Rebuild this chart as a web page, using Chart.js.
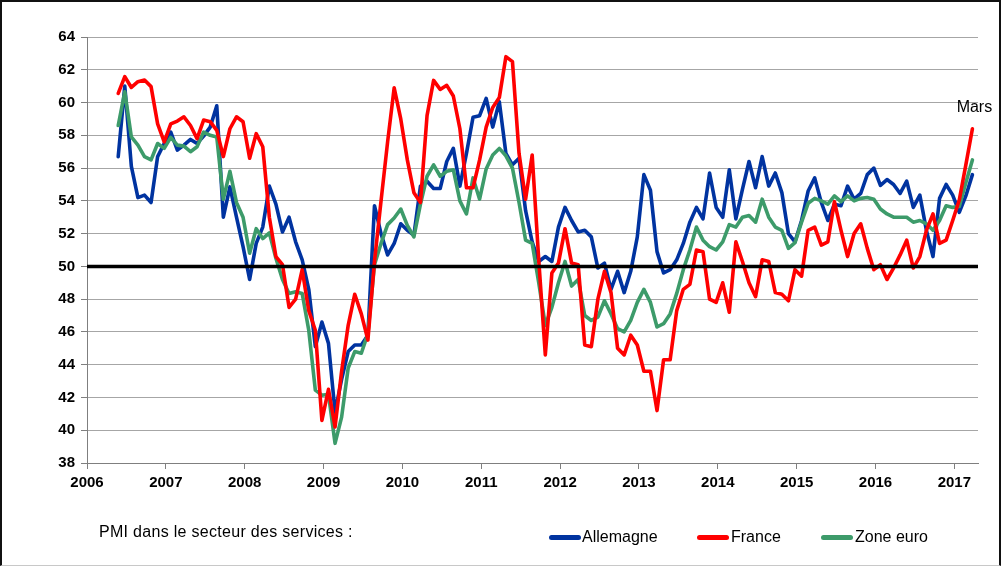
<!DOCTYPE html>
<html lang="fr">
<head>
<meta charset="utf-8">
<script src="https://cdn.jsdelivr.net/npm/chart.js@4.4.1/dist/chart.umd.min.js"></script>
<style>
body{margin:0;background:#fff;font-family:"Liberation Sans",Arial,sans-serif;}
#zone{position:relative;width:1001px;height:566px;overflow:hidden;}
#graf{position:absolute;left:0;top:0;}
#cadre{position:absolute;left:0;top:0;width:1001px;height:566px;box-sizing:border-box;border-left:2px solid #111;border-top:2px solid #111;border-right:2px solid #111;border-bottom:1px solid #c8c8c8;pointer-events:none;}
.txt{position:absolute;font-size:16px;line-height:20px;color:#000;white-space:nowrap;}
.trait{position:absolute;width:32px;height:5px;border-radius:3px;}
</style>
</head>
<body>
<div id="zone">
<canvas id="graf" width="1001" height="566"></canvas>
<div class="txt" style="left:99px;top:522px;letter-spacing:0.3px;">PMI dans le secteur des services :</div>
<div class="trait" style="left:549px;top:535px;background:#0033a0;"></div>
<div class="txt" style="left:582px;top:527px;">Allemagne</div>
<div class="trait" style="left:697px;top:535px;background:#ff0000;"></div>
<div class="txt" style="left:731px;top:527px;">France</div>
<div class="trait" style="left:821px;top:535px;background:#3d9b6a;"></div>
<div class="txt" style="left:855px;top:527px;">Zone euro</div>
<div id="cadre"></div>
</div>
<script>
// PMI services, mensuel, de mai 2006 a mars 2017
const anneeDebut = 2006;
const moisDebut = 5;

const allemagne = [56.7,61.0,56.1,54.2,54.35,53.9,56.7,57.5,58.2,57.1,
57.4,57.75,57.5,57.95,58.5,59.8,53.0,54.85,53.0,51.2,
49.2,51.4,52.4,54.9,53.8,52.1,53.0,51.5,50.4,48.6,
45.1,46.6,45.3,41.1,43.1,44.8,45.2,45.2,45.8,53.7,
52.0,50.7,51.4,52.6,52.2,51.9,54.9,55.2,54.75,54.75,
56.4,57.2,54.9,56.9,59.1,59.2,60.25,58.5,60.05,56.9,
56.2,56.6,53.4,51.5,50.3,50.6,50.3,52.4,53.6,52.8,
52.1,52.2,51.8,49.9,50.2,48.6,49.7,48.4,49.7,51.8,
55.6,54.65,50.9,49.6,49.8,50.4,51.4,52.7,53.6,52.9,
55.7,53.6,53.0,55.9,52.9,54.7,56.4,54.8,56.7,54.9,
55.7,54.5,52.0,51.5,52.8,54.6,55.4,53.9,52.8,53.8,
53.7,54.9,54.1,54.45,55.6,56.0,54.95,55.3,55.0,54.45,
55.2,53.6,54.35,52.2,50.6,54.15,55.0,54.35,53.3,54.3,55.6];

const france = [60.56,61.58,60.92,61.27,61.37,60.97,58.7,57.6,58.7,58.87,
59.13,58.6,57.8,58.93,58.83,58.3,56.7,58.4,59.13,58.83,
56.6,58.1,57.3,53.0,50.6,50.1,47.5,48.0,49.8,47.3,
46.1,40.6,42.5,40.2,43.6,46.4,48.3,47.1,45.5,50.3,
54.0,57.6,60.9,59.0,56.5,54.5,53.9,59.2,61.35,60.8,
61.05,60.4,58.4,54.8,54.8,56.5,58.5,59.7,60.3,62.8,
62.5,56.9,54.1,56.8,50.4,44.6,49.6,50.2,52.3,50.2,
50.1,45.2,45.1,48.0,49.7,48.4,45.0,44.6,45.8,45.2,
43.6,43.6,41.2,44.3,44.3,47.3,48.6,48.9,51.0,50.9,
48.0,47.8,49.0,47.2,51.5,50.3,49.0,48.15,50.4,50.3,
48.4,48.3,47.9,49.8,49.4,52.2,52.4,51.3,51.5,53.95,
52.2,50.6,52.0,52.6,51.1,49.8,50.1,49.2,49.9,50.7,
51.6,49.9,50.6,52.2,53.2,51.4,51.6,52.8,54.05,56.2,58.4];

const zoneEuro = [58.6,60.66,57.9,57.4,56.7,56.5,57.5,57.2,57.87,57.4,
57.34,57.0,57.3,58.2,58.0,57.9,54.1,55.8,53.9,53.0,
50.8,52.3,51.7,52.05,50.5,49.2,48.35,48.45,48.35,46.1,
42.45,42.14,42.2,39.2,40.8,43.8,44.8,44.7,45.9,50.1,
51.4,52.55,52.95,53.5,52.5,51.8,53.8,55.5,56.2,55.5,
55.8,55.9,54.0,53.2,55.4,54.1,55.95,56.8,57.2,56.75,
56.0,53.9,51.6,51.4,49.0,46.4,47.5,49.0,50.3,48.8,
49.2,47.0,46.7,46.9,47.9,47.1,46.2,46.0,46.7,47.8,
48.6,47.8,46.3,46.5,47.1,48.35,49.8,51.0,52.4,51.6,
51.2,51.0,51.5,52.55,52.4,53.0,53.1,52.7,54.1,53.0,
52.4,52.2,51.1,51.45,52.7,53.85,54.15,54.0,53.8,54.3,
53.95,54.3,54.0,54.15,54.2,54.1,53.5,53.2,53.0,53.0,
53.0,52.7,52.8,52.6,52.2,52.8,53.7,53.6,53.65,55.1,56.5];

const annees = [2006,2007,2008,2009,2010,2011,2012,2013,2014,2015,2016,2017];
const gradY = [38,40,42,44,46,48,50,52,54,56,58,60,62,64];
const seuil = 50;
const xMin = 2006, xMax = 2017.3;

const enPoints = serie => serie.map((v,i)=>({x: anneeDebut + (moisDebut-1+i+0.75)/12, y: v}));

const police = "'Liberation Sans', Arial, sans-serif";
Chart.defaults.font.family = police;

const etiquetteMars = {
id:"mars",
afterDatasetsDraw(chart){
const meta = chart.getDatasetMeta(1);
const p = meta.data[meta.data.length-1];
const ctx = chart.ctx;
ctx.save();
ctx.font = "16px " + police;
ctx.fillStyle = "#000";
ctx.textAlign = "center";
ctx.textBaseline = "middle";
ctx.fillText("Mars", p.x+2, p.y-21);
ctx.restore();
}
};

const ligne = (lab, serie, coul) => ({
label: lab,
data: enPoints(serie),
borderColor: coul,
backgroundColor: coul,
borderWidth: 3.6,
pointRadius: 0,
tension: 0,
borderJoinStyle: "round",
borderCapStyle: "round"
});

new Chart(document.getElementById("graf"), {
type: "line",
data: {
datasets: [
{label:"seuil", data:[{x:xMin,y:seuil},{x:xMax,y:seuil}], borderColor:"#000", borderWidth:3.5, pointRadius:0},
ligne("France", france, "#ff0000"),
ligne("Zone euro", zoneEuro, "#3d9b6a"),
ligne("Allemagne", allemagne, "#0033a0")
]
},
options: {
responsive: false,
animation: false,
layout: {padding: {left:0, top:37, right:23, bottom:73}},
plugins: {legend:{display:false}, tooltip:{enabled:false}},
scales: {
x: {
type: "linear",
min: xMin,
max: xMax,
afterBuildTicks: s => { s.ticks = annees.map(v=>({value:v})); },
afterFit: s => { s.height = 30; },
ticks: {callback: v => String(v), color:"#000", font:{size:15, weight:"bold"}, padding:5, maxRotation:0, autoSkip:false},
grid: {drawOnChartArea:false, drawTicks:true, tickLength:6, tickColor:"#7f7f7f"},
border: {color:"#7f7f7f", width:1}
},
y: {
min: 38,
max: 64,
afterBuildTicks: s => { s.ticks = gradY.map(v=>({value:v})); },
afterFit: s => { s.width = 87; },
ticks: {color:"#000", font:{size:15, weight:"bold"}, padding:6},
grid: {color:"#a6a6a6", lineWidth:1, tickLength:6, tickColor:"#7f7f7f"},
border: {color:"#7f7f7f", width:1}
}
}
},
plugins: [etiquetteMars]
});
</script>
</body>
</html>
